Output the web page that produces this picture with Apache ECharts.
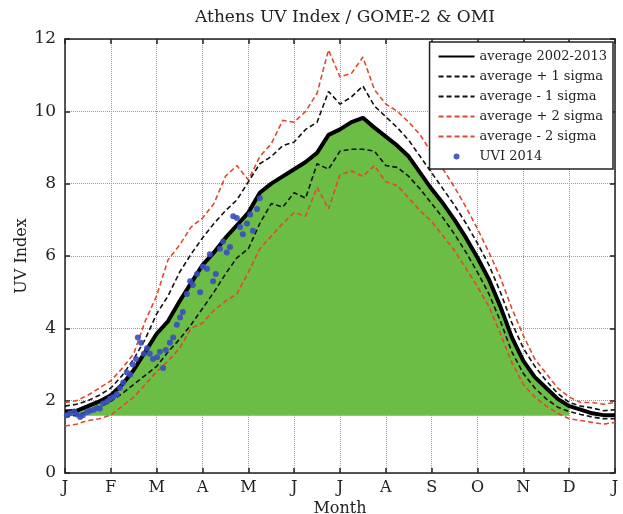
<!DOCTYPE html>
<html>
<head>
<meta charset="utf-8">
<script src="https://cdn.jsdelivr.net/npm/echarts@6/dist/echarts.min.js"></script>
<style>
  html, body { margin: 0; padding: 0; background: #fff; }
  #chart { width: 623px; height: 514px; }
</style>
</head>
<body>
<div id="chart"></div>
<script>
// month tick labels (Jan ... Dec, Jan)
const monthLabels = ['J', 'F', 'M', 'A', 'M', 'J', 'J', 'A', 'S', 'O', 'N', 'D', 'J'];

// curves are sampled every quarter month, from 0 (1 Jan) to 12 (end Dec)
const step = 0.25;

const avg = [1.70, 1.72, 1.85, 1.98, 2.15, 2.45, 2.85, 3.35, 3.85, 4.20, 4.75, 5.25, 5.75,
  6.10, 6.50, 6.85, 7.20, 7.75, 8.00, 8.20, 8.40, 8.60, 8.85, 9.35, 9.50,
  9.70, 9.82, 9.55, 9.30, 9.05, 8.75, 8.30, 7.85, 7.45, 7.00, 6.50, 5.95,
  5.35, 4.60, 3.75, 3.10, 2.65, 2.35, 2.05, 1.85, 1.75, 1.65, 1.60, 1.60];

const plus1 = [1.85, 1.90, 2.00, 2.15, 2.35, 2.70, 3.15, 3.70, 4.40, 4.90, 5.55, 6.05, 6.50,
  6.90, 7.25, 7.55, 8.05, 8.55, 8.75, 9.05, 9.15, 9.50, 9.70, 10.55, 10.20,
  10.40, 10.70, 10.15, 9.85, 9.55, 9.20, 8.75, 8.30, 7.85, 7.40, 6.90, 6.35,
  5.75, 5.00, 4.15, 3.45, 2.95, 2.55, 2.20, 1.95, 1.85, 1.80, 1.72, 1.75];

const minus1 = [1.55, 1.60, 1.70, 1.82, 1.98, 2.20, 2.45, 2.70, 2.95, 3.35, 3.70, 4.10, 4.55,
  5.00, 5.50, 5.95, 6.20, 6.90, 7.45, 7.35, 7.75, 7.60, 8.55, 8.40, 8.90,
  8.95, 8.95, 8.90, 8.50, 8.45, 8.20, 7.85, 7.45, 7.05, 6.60, 6.10, 5.55,
  4.95, 4.20, 3.35, 2.75, 2.35, 2.05, 1.82, 1.70, 1.62, 1.55, 1.50, 1.50];

const plus2 = [1.95, 2.00, 2.15, 2.35, 2.55, 2.90, 3.30, 4.20, 4.90, 5.90, 6.30, 6.80, 7.05,
  7.45, 8.20, 8.50, 8.10, 8.75, 9.10, 9.75, 9.70, 10.00, 10.50, 11.70, 10.95,
  11.05, 11.50, 10.60, 10.20, 10.00, 9.70, 9.35, 8.85, 8.40, 7.90, 7.35, 6.75,
  6.10, 5.40, 4.55, 3.80, 3.15, 2.75, 2.35, 2.10, 1.95, 1.95, 1.90, 1.95];

const minus2 = [1.30, 1.35, 1.45, 1.50, 1.60, 1.85, 2.10, 2.45, 2.80, 3.10, 3.45, 4.00, 4.15,
  4.50, 4.75, 4.95, 5.55, 6.20, 6.55, 6.90, 7.20, 7.10, 7.90, 7.30, 8.25,
  8.35, 8.20, 8.50, 8.05, 7.95, 7.60, 7.25, 6.95, 6.55, 6.15, 5.65, 5.15,
  4.60, 3.85, 3.05, 2.45, 2.10, 1.85, 1.65, 1.50, 1.45, 1.40, 1.35, 1.40];

// UVI 2014 daily points (month position, UV index)
const uviMonth = [0.04, 0.11, 0.20, 0.26, 0.33, 0.39, 0.48, 0.55, 0.63, 0.70, 0.76, 0.83, 0.92,
  0.98, 1.05, 1.13, 1.20, 1.27, 1.35, 1.42, 1.48, 1.55, 1.59, 1.66, 1.72, 1.79,
  1.85, 1.92, 2.01, 2.07, 2.14, 2.20, 2.29, 2.36, 2.44, 2.51, 2.57, 2.66, 2.73,
  2.79, 2.88, 2.95, 3.01, 3.10, 3.16, 3.23, 3.29, 3.38, 3.45, 3.53, 3.60, 3.67,
  3.75, 3.82, 3.88, 3.97, 4.04, 4.10, 4.19, 4.25];
const uviValue = [1.60, 1.65, 1.70, 1.62, 1.55, 1.60, 1.68, 1.72, 1.75, 1.80, 1.78, 1.92, 1.98,
  2.05, 2.10, 2.18, 2.35, 2.50, 2.78, 2.72, 3.00, 3.15, 3.75, 3.60, 3.30, 3.45,
  3.30, 3.15, 3.20, 3.35, 2.90, 3.40, 3.60, 3.75, 4.10, 4.30, 4.45, 4.95, 5.30,
  5.20, 5.50, 5.00, 5.70, 5.65, 6.05, 5.30, 5.50, 6.20, 6.40, 6.10, 6.25, 7.10,
  7.05, 6.80, 6.60, 6.90, 7.15, 6.70, 7.30, 7.60];

// green patch sits on this level and ends at the start of December
const fillBase = 1.58;
const fillEnd = 11;

const pairs = arr => arr.map((v, i) => [i * step, v]);
const uviData = uviMonth.map((m, i) => [m, uviValue[i]]);
const fillData = avg.map((v, i) => i * step <= fillEnd ? [i * step, v] : [i * step, null]);

const serif = 'DejaVu Serif';
const red = '#e4472b';
const noDot = { opacity: 0 };

const option = {
  animation: false,
  backgroundColor: '#fff',
  title: {
    text: 'Athens UV Index / GOME-2 & OMI',
    left: 340, top: 4, textAlign: 'center',
    textStyle: { fontFamily: serif, fontSize: 17, fontWeight: 'normal', color: '#222' }
  },
  grid: { left: 65, right: 8, top: 39, bottom: 41, containLabel: false, outerBoundsMode: 'none' },
  legend: {
    orient: 'vertical',
    right: 10, top: 42,
    padding: [8, 6, 6, 8],
    itemGap: 7,
    itemWidth: 36, itemHeight: 6,
    backgroundColor: '#fff',
    borderColor: '#222', borderWidth: 1.5, borderRadius: 0,
    textStyle: { fontFamily: serif, fontSize: 13, color: '#222' },
    data: [
      { name: 'average 2002-2013', itemStyle: noDot },
      { name: 'average + 1 sigma', itemStyle: noDot },
      { name: 'average - 1 sigma', itemStyle: noDot },
      { name: 'average + 2 sigma', itemStyle: noDot },
      { name: 'average - 2 sigma', itemStyle: noDot },
      { name: 'UVI 2014', icon: 'circle' }
    ]
  },
  xAxis: [{
    type: 'value', min: 0, max: 12, interval: 1,
    name: 'Month', nameLocation: 'middle', nameGap: 26,
    nameTextStyle: { fontFamily: serif, fontSize: 16, color: '#222' },
    axisLine: { onZero: false, lineStyle: { color: '#222', width: 1.5 } },
    axisTick: { inside: true, length: 5, lineStyle: { color: '#222', width: 1.5 } },
    axisLabel: {
      fontFamily: serif, fontSize: 16, color: '#222', margin: 7,
      formatter: v => monthLabels[Math.round(v)]
    },
    splitLine: { show: true, lineStyle: { color: '#9a9a9a', type: 'dotted', width: 1 } }
  }, {
    type: 'value', min: 0, max: 12, interval: 1, position: 'top',
    axisLine: { onZero: false, lineStyle: { color: '#222', width: 1.5 } },
    axisTick: { inside: true, length: 5, lineStyle: { color: '#222', width: 1.5 } },
    axisLabel: { show: false },
    splitLine: { show: false }
  }],
  yAxis: [{
    type: 'value', min: 0, max: 12, interval: 2,
    name: 'UV Index', nameLocation: 'middle', nameGap: 35, nameRotate: 90, nameMoveOverlap: false,
    nameTextStyle: { fontFamily: serif, fontSize: 16, color: '#222' },
    axisLine: { show: true, onZero: false, lineStyle: { color: '#222', width: 1.5 } },
    axisTick: { show: true, inside: true, length: 5, lineStyle: { color: '#222', width: 1.5 } },
    axisLabel: { fontFamily: serif, fontSize: 17, color: '#222', margin: 9 },
    splitLine: { show: true, lineStyle: { color: '#9a9a9a', type: 'dotted', width: 1 } }
  }, {
    type: 'value', min: 0, max: 12, interval: 2, position: 'right',
    axisLine: { show: true, onZero: false, lineStyle: { color: '#222', width: 1.5 } },
    axisTick: { show: true, inside: true, length: 5, lineStyle: { color: '#222', width: 1.5 } },
    axisLabel: { show: false },
    splitLine: { show: false }
  }],
  series: [
    {
      name: 'fill', type: 'line', data: fillData, symbol: 'none', connectNulls: false,
      lineStyle: { width: 0 }, areaStyle: { color: '#6cbd45', opacity: 1, origin: fillBase },
      z: 1
    },
    {
      name: 'average - 2 sigma', type: 'line', data: pairs(minus2), symbol: 'none',
      lineStyle: { color: red, width: 1.6, type: [5, 3] }, itemStyle: { color: red }, z: 3
    },
    {
      name: 'average + 2 sigma', type: 'line', data: pairs(plus2), symbol: 'none',
      lineStyle: { color: red, width: 1.6, type: [5, 3] }, itemStyle: { color: red }, z: 3
    },
    {
      name: 'average - 1 sigma', type: 'line', data: pairs(minus1), symbol: 'none',
      lineStyle: { color: '#111', width: 1.6, type: [5, 3] }, itemStyle: { color: '#111' }, z: 4
    },
    {
      name: 'average + 1 sigma', type: 'line', data: pairs(plus1), symbol: 'none',
      lineStyle: { color: '#111', width: 1.6, type: [5, 3] }, itemStyle: { color: '#111' }, z: 4
    },
    {
      name: 'average 2002-2013', type: 'line', data: pairs(avg), symbol: 'none',
      lineStyle: { color: '#000', width: 4 }, itemStyle: { color: '#000' }, z: 5
    },
    {
      name: 'UVI 2014', type: 'scatter', data: uviData, symbolSize: 6,
      itemStyle: { color: '#3a4cc0', opacity: 0.9 }, z: 6
    }
  ]
};

const chart = echarts.init(document.getElementById('chart'));
chart.setOption(option);
</script>
</body>
</html>
